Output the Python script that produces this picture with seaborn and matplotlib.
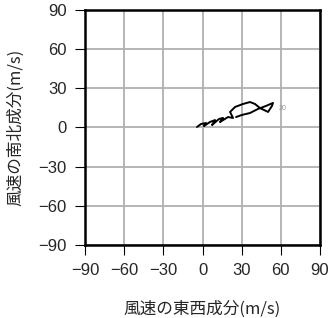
import matplotlib
matplotlib.use("Agg")
import matplotlib.pyplot as plt
import seaborn as sns
import pandas as pd

u = [-4.2, -1.1, 2.7, 1.1, 5.7, 9.6, 7.3, 12.6, 15.7, 13.4, 19.5, 23.4, 21.1, 24.9,
     31.0, 36.4, 40.2, 44.0, 50.2, 53.2, 54.0, 48.6, 42.5, 36.4, 30.2, 25.7]
v = [0.4, 2.7, 3.4, 1.1, 4.2, 5.7, 1.9, 6.5, 7.3, 4.2, 8.0, 7.3, 11.9, 15.7,
     18.0, 19.5, 18.0, 14.9, 11.9, 16.5, 18.8, 16.5, 14.2, 11.1, 9.6, 8.0]
ticks = [-90, -60, -30, 0, 30, 60, 90]
xlabel = "風速の東西成分(m/s)"
ylabel = "風速の南北成分(m/s)"
height_label = "20"

sns.set_style("white")
plt.rcParams['font.family'] = ['Liberation Sans', 'Noto Sans CJK JP', 'DejaVu Sans']

df = pd.DataFrame({"u": u, "v": v})

fig = plt.figure(figsize=(3.31, 3.18), dpi=100)
ax = fig.add_axes([0.2568, 0.2296, 0.71, 0.739])
sns.lineplot(data=df, x="u", y="v", sort=False, estimator=None, color="black",
             linewidth=1.4, ax=ax)
ax.text(58.6, 14.9, height_label, fontsize=5, color="#999999", va="center", ha="left")

ax.set_xlim(-90, 90)
ax.set_ylim(-90, 90)
ax.set_xticks(ticks)
ax.set_yticks(ticks)
ax.set_xticklabels([str(t).replace("-", "\u2212") for t in ticks])
ax.set_yticklabels([str(t).replace("-", "\u2212") for t in ticks])
ax.grid(True, color="#b0b0b0", linewidth=1.3)
ax.set_axisbelow(True)
for s in ax.spines.values():
    s.set_color("black")
    s.set_linewidth(1.8)
ax.tick_params(axis="both", direction="out", length=7, width=0.8, color="black",
               labelsize=12, pad=6, bottom=True, left=True)
ax.set_xlabel(xlabel, fontsize=12, labelpad=16, family=['Noto Sans CJK JP', 'Liberation Sans'])
ax.set_ylabel(ylabel, fontsize=12, labelpad=10, family=['Noto Sans CJK JP', 'Liberation Sans'])
fig.savefig("out.png", dpi=100)
